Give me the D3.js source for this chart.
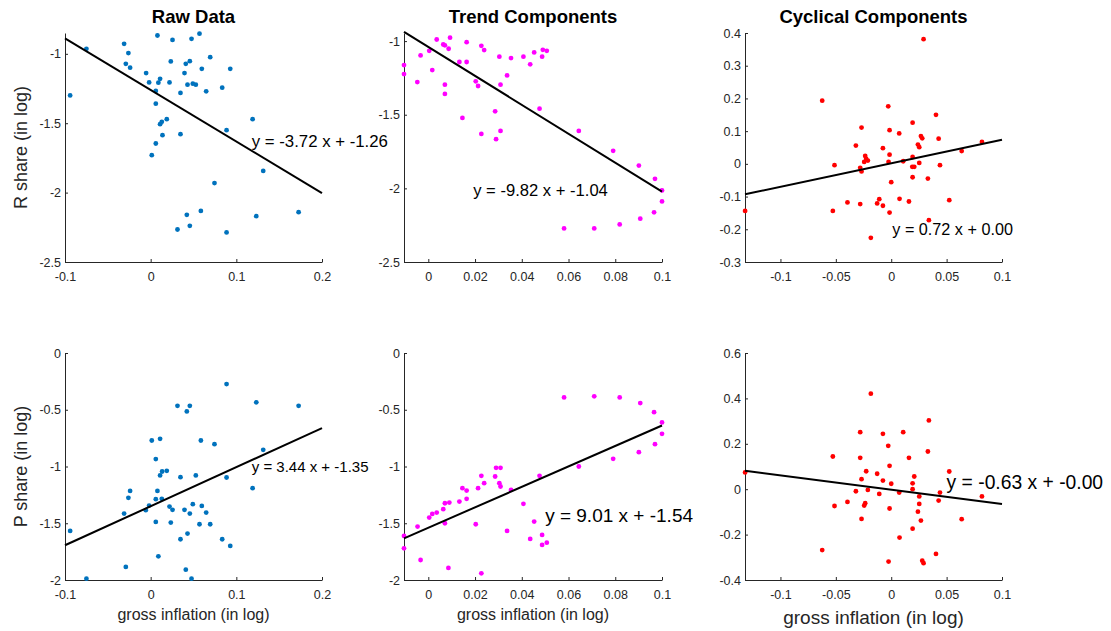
<!DOCTYPE html>
<html>
<head>
<meta charset="utf-8">
<script src="https://cdn.jsdelivr.net/npm/d3@7"></script>
<style>
    body { margin: 0; background: #fff; }
    text { font-family: 'Liberation Sans', Arial, Helvetica, sans-serif; }
</style>
</head>
<body>
<script>
// Scatter points, [x, y] per panel
const rawR = [[-0.094,-1.30],[-0.075,-0.964],[-0.031,-0.928],[-0.029,-1.072],[-0.026,-0.995],[-0.024,-1.10],[-0.0053,-1.139],[-0.0018,-1.206],[0.0013,-1.730],[0.006,-1.268],[0.006,-1.359],[0.006,-1.646],[0.0079,-0.868],[0.009,-1.208],[0.011,-1.18],[0.011,-1.507],[0.013,-1.49],[0.0138,-1.586],[0.0188,-1.471],[0.022,-1.206],[0.0235,-1.055],[0.0255,-0.90],[0.0313,-2.266],[0.0348,-1.282],[0.0348,-1.579],[0.0395,-1.139],[0.041,-1.072],[0.0422,-2.160],[0.043,-1.222],[0.0457,-1.053],[0.0457,-2.239],[0.0477,-0.892],[0.0492,-1.215],[0.0527,-1.222],[0.057,-0.855],[0.0586,-2.132],[0.0597,-1.108],[0.0648,-1.270],[0.0695,-1.024],[0.0745,-1.931],[0.0835,-1.244],[0.0886,-1.55],[0.0886,-2.287],[0.0929,-1.108],[0.119,-1.471],[0.1233,-2.170],[0.1314,-1.844],[0.1727,-2.141]];
const rawP = [[-0.094,-1.568],[-0.075,-1.988],[-0.031,-1.415],[-0.029,-1.885],[-0.026,-1.276],[-0.024,-1.215],[-0.0057,-1.385],[-0.0018,-1.344],[0.0013,-0.771],[0.006,-0.935],[0.006,-1.288],[0.006,-1.488],[0.0079,-1.215],[0.009,-1.791],[0.011,-0.756],[0.011,-1.079],[0.013,-1.285],[0.0134,-1.044],[0.0188,-1.038],[0.022,-1.353],[0.0235,-1.494],[0.0255,-1.382],[0.0313,-0.465],[0.0348,-1.094],[0.0348,-1.641],[0.0395,-1.382],[0.041,-1.909],[0.0422,-0.515],[0.043,-1.591],[0.0457,-0.465],[0.0457,-1.415],[0.0477,-1.988],[0.0492,-1.332],[0.0527,-1.079],[0.057,-1.509],[0.0586,-0.771],[0.0597,-1.347],[0.0648,-1.406],[0.0695,-1.509],[0.0745,-0.803],[0.0835,-1.641],[0.0886,-0.274],[0.0886,-1.097],[0.0929,-1.7],[0.119,-1.191],[0.1233,-0.435],[0.1314,-0.853],[0.1727,-0.465]];
const trendR = [[-0.0104,-1.163],[-0.0104,-1.224],[-0.0047,-1.278],[-0.0033,-1.097],[0.0004,-1.066],[0.0017,-1.197],[0.0036,-0.989],[0.0064,-1.023],[0.0071,-1.029],[0.0087,-1.052],[0.0093,-0.977],[0.0071,-1.296],[0.0071,-1.359],[0.0133,-1.142],[0.0164,-1.007],[0.0164,-1.142],[0.0146,-1.522],[0.0203,-1.273],[0.0213,-1.305],[0.0227,-1.032],[0.0239,-1.061],[0.0227,-1.630],[0.0286,-1.477],[0.029,-1.666],[0.0309,-1.610],[0.0304,-1.106],[0.0309,-1.296],[0.0337,-1.233],[0.0354,-1.115],[0.0407,-1.106],[0.0436,-1.158],[0.0453,-1.077],[0.0487,-1.106],[0.049,-1.059],[0.0507,-1.066],[0.0476,-1.459],[0.0581,-2.272],[0.0644,-1.610],[0.071,-2.272],[0.0791,-1.745],[0.0819,-2.245],[0.0901,-1.845],[0.0907,-2.206],[0.0966,-2.163],[0.097,-1.935],[0.1,-2.014],[0.1,-2.089]];
const trendP = [[-0.0104,-1.612],[-0.0104,-1.721],[-0.0046,-1.529],[-0.0033,-1.824],[0.0004,-1.45],[0.0017,-1.418],[0.0036,-1.406],[0.0064,-1.376],[0.0071,-1.324],[0.0071,-1.5],[0.009,-1.318],[0.0086,-1.894],[0.0133,-1.309],[0.0146,-1.191],[0.0164,-1.212],[0.0164,-1.285],[0.0203,-1.509],[0.0213,-1.191],[0.0227,-1.082],[0.0239,-1.147],[0.0227,-1.941],[0.0286,-1.088],[0.029,-1.012],[0.0309,-1.012],[0.0304,-1.147],[0.0309,-1.176],[0.0337,-1.568],[0.0354,-1.206],[0.0407,-1.329],[0.0436,-1.638],[0.0453,-1.485],[0.0487,-1.603],[0.0487,-1.691],[0.0507,-1.671],[0.0476,-1.082],[0.0581,-0.391],[0.0644,-1.0],[0.071,-0.382],[0.0791,-0.932],[0.0819,-0.391],[0.0901,-0.874],[0.0907,-0.441],[0.0966,-0.521],[0.097,-0.803],[0.1,-0.612],[0.1,-0.712]];
const cycR = [[-0.1319,-0.144],[-0.0623,0.193],[-0.0512,-0.004],[-0.0527,-0.144],[-0.0395,-0.118],[-0.0319,0.056],[-0.0268,0.111],[-0.028,-0.012],[-0.0268,-0.023],[-0.028,-0.123],[-0.0235,0.024],[-0.0226,0.015],[-0.0211,0.010],[-0.0244,0.006],[-0.0184,-0.226],[-0.0127,-0.121],[-0.0108,-0.108],[-0.0075,0.048],[-0.0075,-0.128],[-0.0027,0.176],[-0.0015,0.103],[-0.0015,0.028],[-0.0024,0.006],[0.0,-0.056],[-0.0015,-0.149],[0.0072,0.093],[0.0075,-0.107],[0.0108,0.008],[0.016,-0.115],[0.0193,0.126],[0.0193,0.021],[0.019,-0.009],[0.0208,-0.009],[0.0193,-0.041],[0.0241,0.059],[0.0253,0.051],[0.0253,0.003],[0.0268,0.085],[0.028,0.078],[0.0292,0.381],[0.0331,-0.045],[0.034,-0.172],[0.0404,0.150],[0.0428,0.077],[0.044,-0.004],[0.0524,-0.111],[0.0636,0.039],[0.0819,0.067]];
const cycP = [[-0.1319,0.074],[-0.0623,-0.268],[-0.0527,0.144],[-0.0512,-0.074],[-0.0395,-0.056],[-0.0319,-0.009],[-0.028,0.251],[-0.028,0.138],[-0.0268,0.044],[-0.0268,-0.131],[-0.0244,-0.072],[-0.0235,-0.062],[-0.0226,0.079],[-0.0211,-0.003],[-0.0184,0.421],[-0.0127,0.068],[-0.0108,-0.021],[-0.0075,0.244],[-0.0075,0.038],[-0.0027,0.191],[-0.0015,0.103],[-0.0015,-0.085],[0.0,0.024],[-0.0024,-0.319],[0.0072,-0.015],[0.0075,-0.213],[0.0108,0.251],[0.016,0.138],[0.0193,0.026],[0.0208,0.056],[0.0193,0.0],[0.0193,-0.174],[0.0241,-0.099],[0.0253,-0.065],[0.0253,-0.032],[0.0268,-0.138],[0.028,-0.315],[0.0292,-0.326],[0.0331,0.166],[0.034,0.303],[0.0404,-0.285],[0.0428,-0.05],[0.044,-0.015],[0.0524,0.078],[0.0636,-0.132],[0.0819,-0.032]];

// Fitted lines y = slope * x + intercept, same order as the panels
const slopes = [-3.72, -9.82, 0.72, 3.44, 9.01, -0.63];
const intercepts = [-1.26, -1.04, 0.002, -1.35, -1.54, -0.002];
// Where each equation label sits, in data units (left, middle)
const eqAnchors = [[0.118, -1.625], [0.0192, -2.01], [0.001, -0.2], [0.118, -1.0], [0.05, -1.43], [0.05, 0.033]];

// Axis limits and ticks
const xDomains = [[-0.1, 0.2], [-0.0104, 0.1], [-0.132, 0.1]];
const xTicks = [[-0.1, 0, 0.1, 0.2], [0, 0.02, 0.04, 0.06, 0.08, 0.1], [-0.1, -0.05, 0, 0.05, 0.1]];
const yDomains = [[-2.5, -0.85], [-2.5, -0.945], [-0.3, 0.4], [-2, 0], [-2, 0], [-0.4, 0.6]];
const yTicks = [[-2.5, -2, -1.5, -1], [-2.5, -2, -1.5, -1], [-0.3, -0.2, -0.1, 0, 0.1, 0.2, 0.3, 0.4],
    [-2, -1.5, -1, -0.5, 0], [-2, -1.5, -1, -0.5, 0], [-0.4, -0.2, 0, 0.2, 0.4, 0.6]];

const titles = ['Raw Data', 'Trend Components', 'Cyclical Components'];
const rowLabels = ['R share (in log)', 'P share (in log)'];
const xLabel = 'gross inflation (in log)';
const colors = ['#0072BD', '#FF00FF', '#FF0000'];
const points = [rawR, trendR, cycR, rawP, trendP, cycP];

// Layout (pixels)
const colLeft = [65, 404, 745];
const colWidth = [257, 258, 257];
const rowTop = [33, 353];
const rowHeight = [229, 227];
const eqFont = [16.8, 16.6, 16.2, 15, 19, 19.3];
const xLabelFont = [16, 16, 19];
const axisColor = '#262626';

const svg = d3.select('body')
    .append('svg')
    .attr('width', 1111)
    .attr('height', 631);

const fmt = (v) => String(+v.toFixed(4));

points.forEach((pts, i) => {
    const row = Math.floor(i / 3);
    const col = i % 3;
    const w = colWidth[col];
    const h = rowHeight[row];

    const g = svg.append('g').attr('transform', `translate(${colLeft[col]},${rowTop[row]})`);

    const x = d3.scaleLinear().domain(xDomains[col]).range([0, w]);
    const y = d3.scaleLinear().domain(yDomains[i]).range([h, 0]);

    // axes, ticks pointing inward like matlab
    const gx = g.append('g')
        .attr('transform', `translate(0,${h})`)
        .call(d3.axisBottom(x).tickValues(xTicks[col]).tickFormat(fmt).tickSizeInner(-3).tickSizeOuter(0).tickPadding(10));
    const gy = g.append('g')
        .call(d3.axisLeft(y).tickValues(yTicks[i]).tickFormat(fmt).tickSizeInner(-3).tickSizeOuter(0).tickPadding(4));

    [gx, gy].forEach((a) => {
        a.select('.domain').attr('stroke', axisColor).attr('stroke-width', 1);
        a.selectAll('.tick line').attr('stroke', axisColor);
        a.selectAll('.tick text').attr('fill', axisColor).style('font-size', '12.5px')
            .style('font-family', "'Liberation Sans', Arial, sans-serif");
    });

    // scatter
    g.append('g')
        .selectAll('circle')
        .data(pts)
        .join('circle')
        .attr('cx', (d) => x(d[0]))
        .attr('cy', (d) => y(d[1]))
        .attr('r', 2.4)
        .attr('fill', colors[col]);

    // fitted line across the whole x range
    const x0 = xDomains[col][0];
    const x1 = xDomains[col][1];
    g.append('line')
        .attr('x1', x(x0))
        .attr('y1', y(slopes[i] * x0 + intercepts[i]))
        .attr('x2', x(x1))
        .attr('y2', y(slopes[i] * x1 + intercepts[i]))
        .attr('stroke', '#000')
        .attr('stroke-width', 2);

    // equation label
    g.append('text')
        .attr('x', x(eqAnchors[i][0]))
        .attr('y', y(eqAnchors[i][1]))
        .attr('dy', '0.36em')
        .style('font-size', eqFont[i] + 'px')
        .attr('fill', '#000')
        .text(`y = ${slopes[i].toFixed(2)} x + ${intercepts[i].toFixed(2)}`);

    if (row === 0) {
        g.append('text')
            .attr('x', w / 2)
            .attr('y', -10.5)
            .attr('text-anchor', 'middle')
            .style('font-size', '18.5px')
            .style('font-weight', 'bold')
            .attr('fill', '#000')
            .text(titles[col]);
    } else {
        g.append('text')
            .attr('x', w / 2)
            .attr('y', h + (col === 2 ? 44 : 40))
            .attr('text-anchor', 'middle')
            .style('font-size', xLabelFont[col] + 'px')
            .attr('fill', axisColor)
            .text(xLabel);
    }

    if (col === 0) {
        svg.append('text')
            .attr('transform', `translate(26.5,${rowTop[row] + h / 2}) rotate(-90)`)
            .attr('text-anchor', 'middle')
            .style('font-size', '18px')
            .attr('fill', axisColor)
            .text(rowLabels[row]);
    }
});
</script>
</body>
</html>
